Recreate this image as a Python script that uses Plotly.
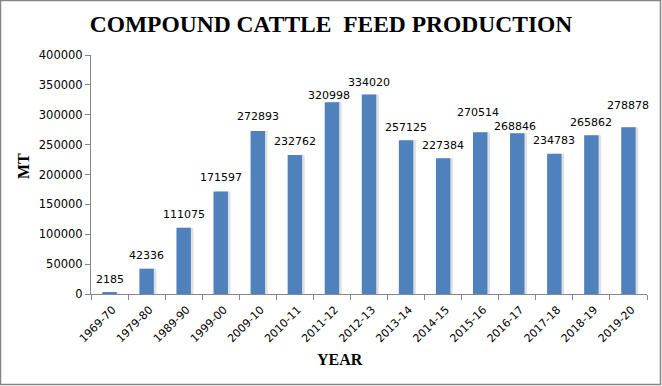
import plotly.graph_objects as go

years = ["1969-70", "1979-80", "1989-90", "1999-00", "2009-10", "2010-11", "2011-12",
         "2012-13", "2013-14", "2014-15", "2015-16", "2016-17", "2017-18", "2018-19", "2019-20"]
production = [2185, 42336, 111075, 171597, 272893, 232762, 320998,
              334020, 257125, 227384, 270514, 268846, 234783, 265862, 278878]
y_ticks = [0, 50000, 100000, 150000, 200000, 250000, 300000, 350000, 400000]

# label placement style (pixel shifts of each value label: dx, dy above bar top)
label_dx = [0, 0, 0, 0, 0, 0, -3, 0, 0, 0, -2, -2, 0, 0, 0]
label_dy = [13, 13, 13, 14, 14, 13, 7, 12, 13, 13, 20, 7, 13, 13, 22]

W, H = 662, 386
ML, MR, MT, MB = 91, 15, 55, 92
pw, ph = W - ML - MR, H - MT - MB

def px_x(p):
    return (p - ML) / pw

def px_y(p):
    return (H - MB - p) / ph

fig = go.Figure()
# soft shadow behind bars
fig.add_trace(go.Bar(
    x=years, y=production, width=0.39, offset=-0.195 + 0.07,
    marker=dict(color="rgba(0,0,0,0.12)", line=dict(width=0)),
    hoverinfo="skip", showlegend=False,
))
fig.add_trace(go.Bar(
    x=years, y=production, width=0.39, offset=-0.195,
    marker=dict(color="#4F81BD", line=dict(width=0)),
    showlegend=False,
))

annotations = []
for yr, v, dx, dy in zip(years, production, label_dx, label_dy):
    annotations.append(dict(
        x=yr, y=v, xref="x", yref="y", text=str(v), showarrow=False,
        xanchor="center", yanchor="middle", xshift=dx, yshift=dy,
        font=dict(family="DejaVu Sans", size=11, color="#000000"),
    ))
annotations.append(dict(
    x=px_x(340), y=px_y(359), xref="paper", yref="paper", text="<b>YEAR</b>",
    showarrow=False, xanchor="center", yanchor="middle",
    font=dict(family="Liberation Serif", size=16, color="#000000"),
))
annotations.append(dict(
    x=px_x(23), y=px_y(166), xref="paper", yref="paper", text="<b>MT</b>",
    showarrow=False, xanchor="center", yanchor="middle", textangle=-90,
    font=dict(family="Liberation Serif", size=16, color="#000000"),
))

fig.update_layout(
    width=W, height=H,
    margin=dict(l=ML, r=MR, t=MT, b=MB),
    paper_bgcolor="white", plot_bgcolor="white",
    barmode="overlay",
    title=dict(text="COMPOUND CATTLE&nbsp; FEED PRODUCTION", x=0.5, xanchor="center",
               y=1 - 24 / H, yanchor="middle",
               font=dict(family="Liberation Serif", size=23.5, color="#000000", weight="bold")),
    xaxis=dict(
        type="category", tickson="boundaries", ticks="outside", ticklen=5,
        tickcolor="#868686", showline=True, linecolor="#868686", linewidth=1,
        tickangle=-45, tickfont=dict(family="DejaVu Sans", size=11, color="#000000"),
        ticklabelstandoff=4, ticklabelshift=3,
        showgrid=False, range=[-0.5, len(years) - 0.5],
    ),
    yaxis=dict(
        range=[0, 400000], tickvals=y_ticks, ticktext=[str(v) for v in y_ticks],
        ticks="outside", ticklen=5, tickcolor="#868686",
        showline=True, linecolor="#868686", linewidth=1, showgrid=False, zeroline=False,
        tickfont=dict(family="DejaVu Sans", size=11.5, color="#000000"),
    ),
    annotations=annotations,
    shapes=[dict(type="rect", xref="paper", yref="paper",
                 x0=px_x(0.5), x1=px_x(W - 1.5), y0=px_y(H - 1.5), y1=px_y(0.5),
                 line=dict(color="#868686", width=1.5), fillcolor="rgba(0,0,0,0)", layer="below")],
)

fig.write_html("out.html", config={"displayModeBar": False},
               post_script="document.body.style.margin='0';document.body.style.overflow='hidden';")
